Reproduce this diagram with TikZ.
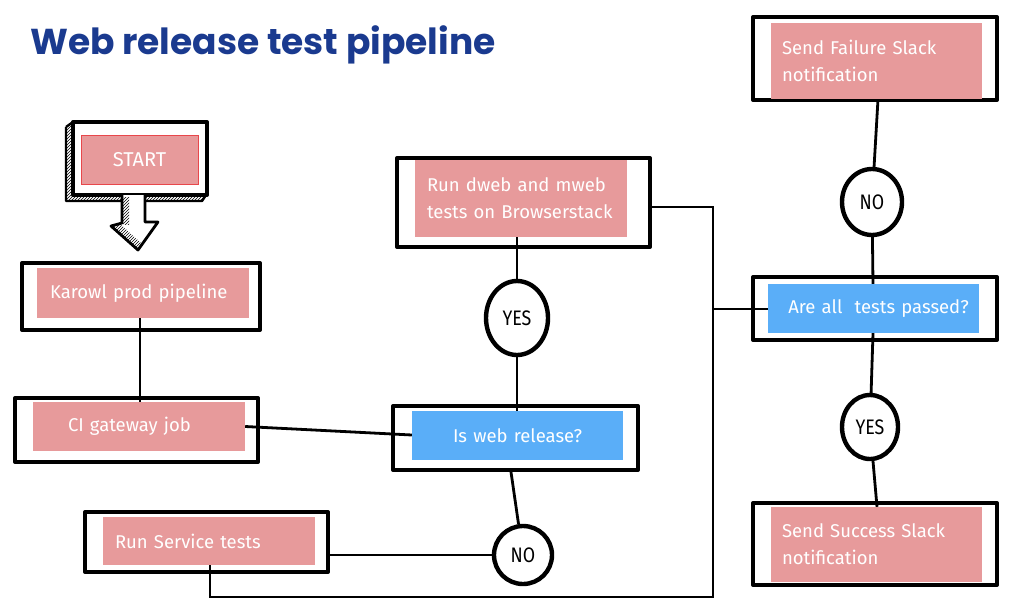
\documentclass[tikz,border=0pt]{standalone}
\usepackage{fontspec}
\setmainfont{Fira Sans}
\newfontfamily\circfont{Fira Sans}[FakeStretch=0.85]
\newfontfamily\titlefont{Poppins}
\usetikzlibrary{shapes.geometric,patterns}
\pgfdeclarelayer{background}
\pgfsetlayers{background,main}
\definecolor{pinkc}{HTML}{E79A9B}
\definecolor{bluec}{HTML}{5AAEF8}
\definecolor{titlec}{HTML}{1A3A8F}
\definecolor{redc}{HTML}{E8474B}
\tikzset{
  frame/.style={draw=black, line width=4pt, rectangle, inner sep=0pt, line join=round},
  boxtext/.style={font=\fontsize{18.5}{27}\selectfont, text=white},
  pinkbox/.style={boxtext, fill=pinkc, rectangle, inner ysep=0pt},
  bluebox/.style={boxtext, fill=bluec, rectangle, inner ysep=0pt},
  decision/.style={draw=black, line width=4.4pt, ellipse, inner sep=0pt, fill=white, font=\circfont\fontsize{21}{22}\selectfont},
  link/.style={draw=black, line width=2.8pt},
}
\begin{document}
\begin{tikzpicture}[x=1pt,y=-1pt]
\useasboundingbox (0,0) rectangle (1024,602);
% title
\node[anchor=base west, inner sep=0pt, text=titlec, font=\titlefont\bfseries\fontsize{36}{40}\selectfont] (title) at (30,55) {Web release test pipeline};

% circles
\node[decision, minimum width=62pt, minimum height=74pt] (yes1) at (517,318) {YES};
\node[decision, minimum width=58pt, minimum height=58pt] (no1) at (523,555) {NO};
\node[decision, minimum width=60pt, minimum height=66pt] (no2) at (872,202) {NO};
\node[decision, minimum width=56pt, minimum height=64pt] (yes2) at (870,427) {YES};

% frames
\node[frame, minimum width=134pt, minimum height=73pt] (startF) at (140,158.5) {};
\node[frame, minimum width=238pt, minimum height=67pt] (karF) at (141,296.5) {};
\node[frame, minimum width=243pt, minimum height=64pt] (ciF) at (136.5,430) {};
\node[frame, minimum width=243pt, minimum height=60pt] (svcF) at (206.5,542) {};
\node[frame, minimum width=245pt, minimum height=64pt] (isF) at (515.5,438) {};
\node[frame, minimum width=253pt, minimum height=89pt] (dwebF) at (523.5,202.5) {};
\node[frame, minimum width=244pt, minimum height=63pt] (allF) at (875,308.5) {};
\node[frame, minimum width=244pt, minimum height=83pt] (failF) at (875,58.5) {};
\node[frame, minimum width=244pt, minimum height=82pt] (succF) at (875,544) {};

% START 3D hatching and arrow
\coordinate (sa1) at (122,195);
\coordinate (sa2) at (122,223);
\coordinate (sa3) at (111,226);
\coordinate (sa4) at (138,250);
\coordinate (sa5) at (158,222);
\coordinate (sa6) at (145,222);
\coordinate (sa7) at (145,195);
\path[pattern=north east lines, pattern color=black] (66,127) -- (73,122) -- (73,195) -- (206,195) -- (202,201) -- (66,201) -- cycle;
\draw[line width=2.4pt, line join=round] (66,127) -- (73,122) (66,127) -- (66,201) -- (202,201) -- (206,195);
\filldraw[fill=white, line width=2.8pt, line join=round] (sa1) -- (sa2) -- (sa3) -- (sa4) -- (sa5) -- (sa6) -- (sa7);
\path[pattern=north east lines, pattern color=black] (123,197) -- (129,197) -- (129,224) -- (123,224) -- cycle;
\path[pattern=north east lines, pattern color=black] (113,227) -- (120,224) -- (142,244) -- (138,249) -- cycle;

% inner boxes
\node[pinkbox, draw=redc, line width=1pt, minimum width=117pt, minimum height=49pt, inner xsep=0pt, font=\fontsize{20}{24}\selectfont] (startP) at (139.5,159.5) {START};
\node[pinkbox, text width=186pt, inner xsep=13pt, minimum height=50pt, align=left] (karP) at (143,293) {Karowl prod pipeline};
\node[pinkbox, text width=142pt, inner xsep=35pt, minimum height=49pt, align=left] (ciP) at (139,426.5) {CI gateway job};
\node[pinkbox, text width=188pt, inner xsep=12pt, minimum height=48pt, align=left] (svcP) at (209,541) {Run Service tests};
\node[bluebox, text width=191pt, inner xsep=10pt, minimum height=49pt, align=center] (isP) at (517.5,435.5) {Is web release?};
\node[pinkbox, text width=188pt, inner xsep=12pt, minimum height=77pt, align=left] (dwebP) at (521,198.5) {Run dweb and mweb\\tests on Browserstack};
\node[bluebox, text width=191pt, inner xsep=10pt, minimum height=49pt, align=center] (allP) at (873.5,308.5) {\hspace*{10pt}Are all\ \ tests passed?};
\node[pinkbox, text width=189pt, inner xsep=11pt, minimum height=76pt, align=left] (failP) at (876.5,61) {Send Failure Slack\\notification};
\node[pinkbox, text width=189pt, inner xsep=11pt, minimum height=75pt, align=left] (succP) at (876.5,544.5) {Send Success Slack\\notification};

% connectors (behind everything)
\coordinate (c1) at (713,207);
\coordinate (c2) at (713,309);
\coordinate (c3) at (210,597);
\coordinate (c4) at (713,597);
\begin{pgfonlayer}{background}
\draw[link] (karP.south -| 140,0) -- (ciP.north -| 140,0);
\draw[link] (ciP.east) -- (isP.west |- 0,435);
\draw[link] (isP.north -| 517,0) -- (yes1);
\draw[link] (yes1) -- (dwebP.south -| 517,0);
\draw[link] (isF.south -| 511,0) -- (no1);
\draw[link] (no1) -- (svcF.east |- 0,555);
\draw[link, line join=miter] (svcP.south -| c3) -- (c3) -- (c4) -- (c2);
\draw[link, line join=miter] (dwebF.east |- c1) -- (c1) -- (c2) -- (allP.west |- c2);
\draw[link] (allP.north -| 873,0) -- (no2);
\draw[link] (no2) -- (failP.south -| 878,0);
\draw[link] (allP.south -| 873,0) -- (yes2);
\draw[link] (yes2) -- (succP.north -| 877,0);
\end{pgfonlayer}
\end{tikzpicture}
\end{document}
